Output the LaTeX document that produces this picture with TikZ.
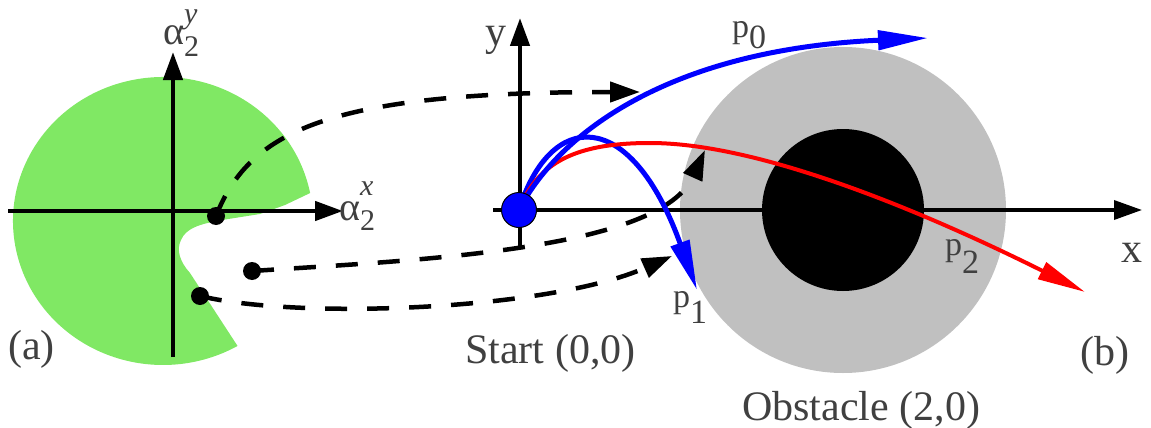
\documentclass[tikz,border=0pt]{standalone}
\usepackage{fontspec}
\setmainfont{Liberation Serif}
\usetikzlibrary{arrows.meta}
\definecolor{region}{RGB}{128,232,100}
\definecolor{halo}{RGB}{192,192,192}
\definecolor{ink}{RGB}{64,64,64}
% alpha_2 with a stacked superscript
\newcommand{\alab}[3]{\fontsize{40}{44}\selectfont α\rlap{\fontsize{30}{30}\selectfont\raisebox{#2}{\itshape #1}}{\fontsize{30}{30}\selectfont\raisebox{-#3}{2}}}

\begin{document}
\begin{tikzpicture}[x=1pt, y=-1pt,
  lbl/.style={font=\fontsize{42}{48}\selectfont, text=ink, inner sep=0pt, anchor=base west},
  plbl/.style={font=\fontsize{34}{40}\selectfont, text=ink, inner sep=0pt, anchor=base west},
  axis/.style={line width=4.5pt, -{Triangle[length=28pt,width=19pt]}},
  link/.style={line width=4.5pt, dash pattern=on 22pt off 20pt, -{Triangle[length=30pt,width=20pt]}},
  dot/.style={circle, fill=black, inner sep=0pt, minimum size=18pt},
  traj/.style={line width=5pt, -{Triangle[length=50pt,width=19pt]}}
]
  \useasboundingbox (0,0) rectangle (1151,428);

  % (a) admissible region
  \fill[region] (163,221) ++(-11.2:150 and 144)
    arc[start angle=-11.2, end angle=-299.8, x radius=150, y radius=144]
    -- (190,273) .. controls (180,262) and (176,250) .. (181,240)
    .. controls (186,228) and (200,224) .. (222,220) -- (260,214) -- (285,205) -- cycle;
  \coordinate (ax0) at (8,211);   \coordinate (ax1) at (343,211);
  \coordinate (ay0) at (173,357); \coordinate (ay1) at (173,52);
  \draw[axis] (ax0) -- (ax1);
  \draw[axis] (ay0) -- (ay1);
  \node[inner sep=0pt, anchor=base west, text=ink] (lax) at (339,220) {\alab{x}{25pt}{10pt}};
  \node[inner sep=0pt, anchor=base west, text=ink] (lay) at (163,45) {\alab{y}{21pt}{12pt}};
  \node[lbl] (la) at (8,359) {(a)};

  % (b) obstacle
  \coordinate (obs) at (843,210);
  \fill[halo] (obs) circle[radius=163];
  \fill[black] (obs) circle[radius=81];
  \coordinate (bx0) at (493,210); \coordinate (bx1) at (1142,210);
  \coordinate (by0) at (520,248); \coordinate (by1) at (520,18);
  \draw[axis, line width=3.5pt] (bx0) -- (bx1);
  \draw[axis] (by0) -- (by1);

  % mapping of parameter samples to trajectories
  \node[dot] (d1) at (216,216) {};
  \node[dot] (d2) at (252,271) {};
  \node[dot] (d3) at (200,296) {};
  \coordinate (e1) at (640,92);
  \coordinate (e2) at (705,150);
  \coordinate (e3) at (672,256);
  \draw[link] (d1.center) .. controls (250,130) and (330,92) .. (e1);
  \draw[link] (d2.center) .. controls (420,260) and (660,250) .. (e2);
  \draw[link] (d3.center) .. controls (300,320) and (550,310) .. (e3);

  % trajectories
  \coordinate (s0) at (519,210);
  \coordinate (t0) at (928,38);
  \coordinate (t1) at (697,290);
  \coordinate (t2) at (1085,292);
  \draw[traj, blue] (s0) .. controls (550,110) and (630,105) .. (t1);
  \draw[traj, red, line width=4pt, -{Triangle[length=48pt,width=18pt]}]
    (s0) .. controls (538,160) and (580,143) .. (650,143)
    .. controls (750,143) and (900,200) .. (t2);
  \draw[traj, blue] (s0) .. controls (555,140) and (660,50) .. (t0);
  \node[circle, fill=blue, draw=black, line width=1pt, minimum size=35pt, inner sep=0pt] (s) at (s0) {};

  % labels
  \node[plbl] (p0) at (732,38) {p\raisebox{-10pt}{0}};
  \node[plbl] (p1) at (673,307) {p\raisebox{-16pt}{1}};
  \node[plbl] (p2) at (945,255) {p\raisebox{-18pt}{2}};
  \node[lbl] (ly) at (485,46) {y};
  \node[lbl] (lx) at (1121,262) {x};
  \node[lbl] (start) at (465,363) {Start (0,0)};
  \node[lbl] (obstxt) at (742,420) {Obstacle (2,0)};
  \node[lbl] (lb) at (1080,365) {(b)};
\end{tikzpicture}
\end{document}
